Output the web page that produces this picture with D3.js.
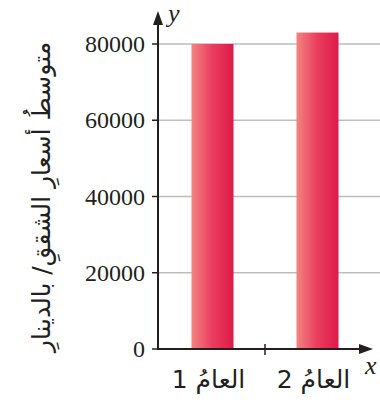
<!DOCTYPE html>
<html>
  <head>
    <meta charset="utf-8"/>
    <title>Apartment prices</title>
    <style>
      body { margin: 0; background: #fff; }
      .tick-label { font-family: "Liberation Serif", serif; font-size: 24px; fill: #231f20; }
      .ar { font-family: "DejaVu Sans", sans-serif; fill: #231f20; }
      .grid { stroke: #bdbdbd; stroke-width: 1.5px; }
    </style>
    <script src="https://d3js.org/d3.v7.min.js"></script>
  </head>
  <body>
    <svg id="chart" width="380" height="405"></svg>
    <script>
      var categories = ["العامُ 1", "العامُ 2"];
      var prices = [80000, 83000];
      var yTicks = [0, 20000, 40000, 60000, 80000];

      var svg = d3.select("#chart");
      var x0 = 158, y0 = 349;

      var x = d3.scaleBand()
        .domain(categories)
        .range([160, 370])
        .paddingInner(0.6)
        .paddingOuter(0.3);

      var y = d3.scaleLinear()
        .domain([0, 80000])
        .range([y0, 44]);

      // gradient for the bars
      var grad = svg.append("defs").append("linearGradient")
        .attr("id", "barGrad")
        .attr("x1", "0%").attr("x2", "100%").attr("y1", "0%").attr("y2", "0%");
      grad.append("stop").attr("offset", "0%").attr("stop-color", "#f28482");
      grad.append("stop").attr("offset", "50%").attr("stop-color", "#ea3d5e");
      grad.append("stop").attr("offset", "100%").attr("stop-color", "#dd1a48");

      // gridlines
      svg.selectAll(".grid")
        .data(yTicks.filter(function(d) { return d > 0; }))
        .enter().append("line")
        .attr("class", "grid")
        .attr("x1", x0).attr("x2", 380)
        .attr("y1", function(d) { return y(d); })
        .attr("y2", function(d) { return y(d); });

      // bars
      svg.selectAll(".bar")
        .data(prices)
        .enter().append("rect")
        .attr("class", "bar")
        .attr("x", function(d, i) { return x(categories[i]); })
        .attr("y", function(d) { return y(d); })
        .attr("width", x.bandwidth())
        .attr("height", function(d) { return y0 - y(d); })
        .attr("fill", "url(#barGrad)");

      // y ticks + labels
      svg.selectAll(".ytick")
        .data(yTicks)
        .enter().append("line")
        .attr("x1", x0 - 6).attr("x2", x0)
        .attr("y1", function(d) { return y(d); })
        .attr("y2", function(d) { return y(d); })
        .attr("stroke", "#231f20").attr("stroke-width", 1.5);

      svg.selectAll(".tick-label")
        .data(yTicks)
        .enter().append("text")
        .attr("class", "tick-label")
        .attr("x", 145)
        .attr("y", function(d) { return y(d) + 8; })
        .attr("text-anchor", "end")
        .text(function(d) { return d; });

      // axes
      svg.append("line")
        .attr("x1", x0).attr("x2", x0).attr("y1", y0 + 1).attr("y2", 20)
        .attr("stroke", "#231f20").attr("stroke-width", 2);
      svg.append("path")
        .attr("d", "M" + x0 + ",11 L" + (x0 - 5) + ",25 L" + (x0 + 5) + ",25 Z")
        .attr("fill", "#231f20");
      svg.append("line")
        .attr("x1", x0 - 1).attr("x2", 364).attr("y1", y0).attr("y2", y0)
        .attr("stroke", "#231f20").attr("stroke-width", 2);
      svg.append("path")
        .attr("d", "M373," + y0 + " L359," + (y0 - 5) + " L359," + (y0 + 5) + " Z")
        .attr("fill", "#231f20");

      // middle tick on x axis
      var mid = x(categories[0]) + x.bandwidth() + x.step() * x.paddingInner() / 2;
      svg.append("line")
        .attr("x1", mid).attr("x2", mid).attr("y1", y0 - 5).attr("y2", y0 + 6)
        .attr("stroke", "#231f20").attr("stroke-width", 1.5);

      // axis letters
      svg.append("text")
        .attr("x", 168).attr("y", 22)
        .attr("font-family", "Liberation Serif").attr("font-style", "italic")
        .attr("font-size", 26).attr("fill", "#231f20")
        .text("y");
      svg.append("text")
        .attr("x", 365).attr("y", 374)
        .attr("font-family", "Liberation Serif").attr("font-style", "italic")
        .attr("font-size", 26).attr("fill", "#231f20")
        .text("x");

      // category labels
      svg.selectAll(".cat")
        .data(categories)
        .enter().append("text")
        .attr("class", "ar cat")
        .attr("x", function(d) { return x(d) + x.bandwidth() / 2 - 4; })
        .attr("y", 388)
        .attr("text-anchor", "middle")
        .attr("direction", "rtl")
        .attr("font-size", 25)
        .text(function(d) { return d; });

      // y title
      svg.append("text")
        .attr("class", "ar")
        .attr("transform", "translate(50,197) rotate(-90)")
        .attr("text-anchor", "middle")
        .attr("font-size", 25)
        .text("متوسطُ أسعارِ الشققِ/ بالدينارِ");
    </script>
  </body>
</html>
